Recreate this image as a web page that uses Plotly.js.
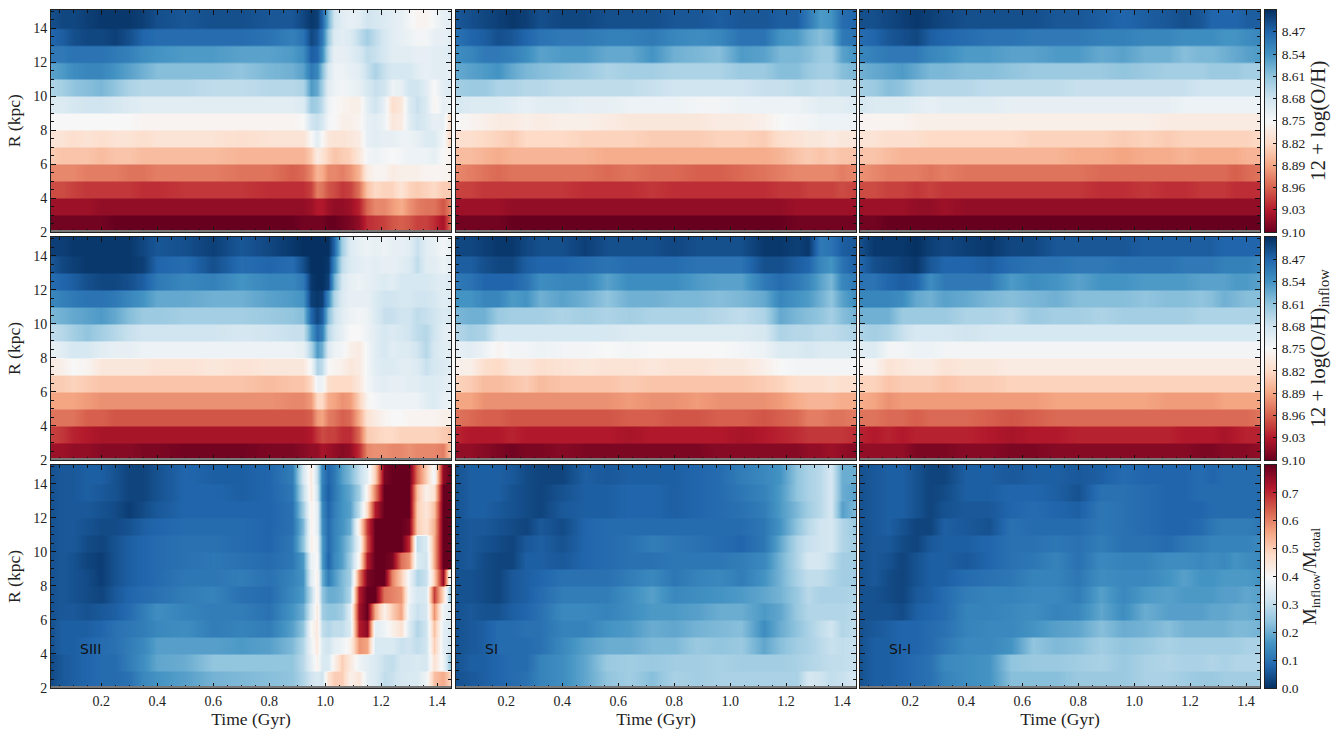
<!DOCTYPE html>
<html>
<head>
<meta charset="utf-8">
<script src="https://cdn.plot.ly/plotly-3.0.1.min.js"></script>
<style>html,body{margin:0;padding:0;background:#fff}</style>
</head>
<body>
<div id="myDiv" style="width:1338px;height:739px"></div>
<script>
// radial bins, listed from the top of each panel down (14-15 kpc ... 2-3 kpc)
const radiusBins = [14,13,12,11,10,9,8,7,6,5,4,3,2];

// time columns: the SIII panels need more of them around the 1 Gyr event
const timeSIII = [0.02,0.06,0.10,0.15,0.20,0.25,0.30,0.35,0.40, 0.50,0.60,0.70,0.80,0.88, 0.92,0.95,0.97,0.99,1.01,1.03, 1.06,1.09,1.12,1.15,1.18,1.21,1.24,1.27,1.30,1.33,1.36,1.39,1.42,1.45];
const timeSI = [0.02,0.07,0.12,0.17,0.22,0.27,0.32,0.40,0.48,0.56,0.64,0.72,0.80,0.88,0.96,1.04,1.12,1.18,1.24,1.28,1.32,1.36,1.40,1.45];

const gasSIII = [
[8.44,8.43,8.43,8.42,8.41,8.41,8.41,8.42,8.44, 8.45,8.44,8.44,8.45,8.45, 8.43,8.41,8.42,8.47,8.58,8.68, 8.71,8.72,8.71,8.68,8.69,8.70,8.71,8.72,8.74,8.76,8.76,8.74,8.72,8.71],
[8.47,8.46,8.44,8.43,8.43,8.42,8.44,8.47,8.48, 8.48,8.48,8.48,8.49,8.51, 8.49,8.43,8.45,8.50,8.62,8.70, 8.71,8.70,8.66,8.63,8.66,8.69,8.71,8.72,8.73,8.74,8.74,8.72,8.72,8.71],
[8.50,8.50,8.49,8.49,8.49,8.50,8.51,8.53,8.54, 8.55,8.55,8.56,8.56,8.55, 8.53,8.46,8.47,8.53,8.65,8.72, 8.72,8.71,8.69,8.66,8.67,8.69,8.71,8.71,8.71,8.72,8.72,8.71,8.71,8.70],
[8.56,8.55,8.53,8.52,8.52,8.54,8.56,8.58,8.60, 8.60,8.60,8.61,8.59,8.58, 8.56,8.50,8.52,8.60,8.69,8.73, 8.73,8.72,8.71,8.67,8.64,8.67,8.69,8.69,8.69,8.71,8.72,8.71,8.71,8.72],
[8.64,8.63,8.61,8.60,8.59,8.61,8.64,8.65,8.65, 8.65,8.66,8.66,8.65,8.65, 8.64,8.55,8.57,8.63,8.71,8.73, 8.74,8.73,8.72,8.69,8.67,8.68,8.73,8.72,8.68,8.68,8.71,8.75,8.71,8.70],
[8.70,8.70,8.69,8.68,8.68,8.69,8.70,8.71,8.71, 8.71,8.71,8.71,8.71,8.71, 8.70,8.62,8.63,8.66,8.73,8.75, 8.76,8.77,8.77,8.71,8.68,8.72,8.81,8.79,8.70,8.67,8.70,8.76,8.72,8.73],
[8.75,8.75,8.75,8.75,8.75,8.75,8.75,8.76,8.76, 8.76,8.76,8.76,8.76,8.76, 8.75,8.68,8.67,8.69,8.74,8.75, 8.77,8.77,8.76,8.72,8.71,8.73,8.79,8.78,8.71,8.68,8.70,8.72,8.72,8.82],
[8.80,8.80,8.81,8.80,8.81,8.80,8.80,8.81,8.80, 8.80,8.80,8.81,8.80,8.80, 8.80,8.75,8.71,8.75,8.79,8.80, 8.80,8.79,8.78,8.72,8.71,8.72,8.72,8.73,8.73,8.72,8.70,8.70,8.74,8.83],
[8.84,8.85,8.85,8.85,8.86,8.85,8.85,8.86,8.86, 8.86,8.86,8.87,8.87,8.87, 8.87,8.84,8.78,8.80,8.83,8.85, 8.84,8.83,8.79,8.74,8.73,8.74,8.75,8.74,8.73,8.73,8.73,8.72,8.75,8.77],
[8.92,8.92,8.92,8.93,8.93,8.93,8.94,8.94,8.93, 8.93,8.93,8.94,8.94,8.96, 8.95,8.92,8.87,8.88,8.92,8.92, 8.93,8.91,8.87,8.78,8.76,8.76,8.78,8.77,8.77,8.77,8.76,8.76,8.76,8.77],
[8.98,8.98,8.99,9.00,9.00,9.00,9.00,9.01,9.01, 9.00,9.00,9.00,9.01,9.01, 9.01,8.99,8.93,8.94,8.97,8.98, 9.00,8.99,8.94,8.85,8.82,8.83,8.83,8.80,8.83,8.84,8.83,8.82,8.84,8.84],
[9.05,9.05,9.05,9.05,9.06,9.06,9.06,9.06,9.06, 9.06,9.06,9.06,9.06,9.06, 9.06,9.05,9.03,9.03,9.05,9.06, 9.06,9.05,9.02,8.95,8.92,8.92,8.90,8.88,8.91,8.93,8.94,8.94,8.97,8.92],
[9.09,9.09,9.09,9.09,9.09,9.10,9.10,9.10,9.10, 9.10,9.10,9.10,9.10,9.10, 9.09,9.09,9.09,9.09,9.10,9.10, 9.09,9.08,9.06,9.01,9.00,8.99,8.97,8.96,8.97,8.99,8.99,9.01,9.04,8.94]
];

const gasSI = [
[8.45,8.44,8.43,8.42,8.41,8.42,8.44,8.43,8.43,8.44,8.44,8.44,8.45,8.45,8.46,8.45,8.45,8.46,8.46,8.50,8.55,8.54,8.48,8.47],
[8.49,8.47,8.46,8.44,8.45,8.47,8.49,8.50,8.50,8.51,8.51,8.50,8.52,8.53,8.52,8.49,8.49,8.54,8.55,8.58,8.60,8.58,8.50,8.49],
[8.53,8.52,8.50,8.50,8.51,8.53,8.56,8.55,8.55,8.57,8.57,8.54,8.58,8.59,8.60,8.55,8.56,8.59,8.59,8.60,8.62,8.62,8.56,8.54],
[8.57,8.56,8.55,8.54,8.57,8.59,8.60,8.61,8.62,8.64,8.63,8.63,8.64,8.64,8.64,8.62,8.62,8.60,8.60,8.62,8.63,8.63,8.60,8.59],
[8.63,8.62,8.62,8.64,8.64,8.65,8.65,8.66,8.66,8.66,8.66,8.67,8.68,8.68,8.68,8.68,8.67,8.67,8.66,8.66,8.67,8.67,8.66,8.66],
[8.69,8.70,8.70,8.70,8.71,8.72,8.71,8.71,8.72,8.72,8.73,8.73,8.73,8.74,8.74,8.73,8.73,8.73,8.73,8.72,8.71,8.71,8.71,8.70],
[8.75,8.76,8.77,8.78,8.78,8.77,8.78,8.77,8.77,8.78,8.79,8.79,8.79,8.79,8.78,8.78,8.77,8.75,8.74,8.74,8.73,8.73,8.73,8.73],
[8.81,8.81,8.82,8.83,8.84,8.82,8.82,8.82,8.83,8.83,8.83,8.84,8.84,8.84,8.83,8.83,8.84,8.81,8.80,8.79,8.79,8.78,8.79,8.79],
[8.86,8.86,8.87,8.88,8.87,8.87,8.87,8.87,8.87,8.88,8.88,8.88,8.88,8.88,8.88,8.88,8.88,8.87,8.85,8.84,8.85,8.84,8.85,8.85],
[8.92,8.93,8.94,8.95,8.94,8.94,8.94,8.94,8.94,8.95,8.94,8.95,8.95,8.96,8.96,8.95,8.94,8.93,8.92,8.92,8.92,8.92,8.93,8.92],
[8.99,8.99,9.00,9.00,9.00,9.00,9.00,9.00,9.01,9.01,9.01,9.00,9.01,9.01,9.01,9.01,9.01,9.00,9.00,8.99,8.99,8.99,8.98,8.99],
[9.05,9.05,9.05,9.05,9.06,9.06,9.06,9.06,9.06,9.06,9.06,9.06,9.06,9.06,9.06,9.06,9.06,9.06,9.05,9.05,9.05,9.05,9.05,9.05],
[9.09,9.09,9.09,9.09,9.10,9.10,9.10,9.10,9.10,9.10,9.10,9.10,9.10,9.10,9.10,9.10,9.10,9.10,9.09,9.09,9.09,9.09,9.09,9.09]
];

const gasSII = [
[8.44,8.44,8.43,8.42,8.41,8.42,8.43,8.44,8.44,8.44,8.44,8.45,8.45,8.46,8.47,8.46,8.45,8.44,8.45,8.47,8.47,8.47,8.46,8.46],
[8.48,8.47,8.45,8.44,8.43,8.46,8.47,8.48,8.49,8.49,8.50,8.50,8.50,8.51,8.51,8.52,8.52,8.53,8.53,8.53,8.54,8.54,8.53,8.52],
[8.52,8.51,8.50,8.50,8.50,8.52,8.53,8.55,8.55,8.56,8.56,8.55,8.55,8.57,8.56,8.58,8.58,8.60,8.59,8.59,8.58,8.57,8.56,8.55],
[8.58,8.57,8.56,8.55,8.57,8.59,8.59,8.60,8.60,8.61,8.62,8.62,8.62,8.62,8.61,8.62,8.63,8.63,8.63,8.62,8.62,8.62,8.63,8.63],
[8.63,8.62,8.60,8.61,8.64,8.65,8.65,8.65,8.66,8.66,8.66,8.66,8.67,8.67,8.67,8.67,8.67,8.67,8.68,8.68,8.68,8.68,8.68,8.68],
[8.69,8.70,8.70,8.70,8.71,8.72,8.71,8.71,8.71,8.72,8.72,8.72,8.72,8.72,8.72,8.72,8.72,8.73,8.73,8.73,8.73,8.73,8.73,8.73],
[8.76,8.76,8.76,8.76,8.77,8.77,8.77,8.77,8.77,8.77,8.77,8.77,8.77,8.77,8.77,8.77,8.78,8.78,8.78,8.78,8.78,8.78,8.78,8.78],
[8.80,8.80,8.81,8.81,8.81,8.82,8.82,8.82,8.82,8.82,8.83,8.83,8.83,8.83,8.84,8.83,8.84,8.83,8.83,8.83,8.83,8.83,8.83,8.82],
[8.85,8.85,8.86,8.87,8.87,8.87,8.87,8.87,8.87,8.87,8.87,8.87,8.88,8.88,8.89,8.88,8.88,8.87,8.88,8.88,8.88,8.88,8.87,8.87],
[8.91,8.92,8.93,8.93,8.93,8.94,8.93,8.94,8.94,8.94,8.94,8.94,8.94,8.95,8.95,8.95,8.95,8.95,8.95,8.95,8.95,8.96,8.95,8.94],
[8.98,8.98,8.99,8.99,9.00,8.99,9.00,9.00,9.00,9.00,9.00,9.00,9.00,9.01,9.01,9.00,9.01,9.01,9.00,9.00,9.00,9.01,9.01,9.01],
[9.05,9.05,9.05,9.05,9.06,9.06,9.05,9.06,9.06,9.06,9.06,9.06,9.06,9.06,9.06,9.06,9.06,9.06,9.06,9.06,9.06,9.06,9.06,9.06],
[9.09,9.09,9.10,9.10,9.10,9.10,9.10,9.10,9.10,9.10,9.10,9.10,9.10,9.10,9.10,9.10,9.10,9.10,9.10,9.10,9.10,9.10,9.10,9.10]
];

const inflowSIII = [
[8.42,8.42,8.41,8.41,8.41,8.41,8.41,8.43,8.45, 8.44,8.42,8.45,8.43,8.41, 8.40,8.40,8.40,8.40,8.40,8.47, 8.63,8.70,8.72,8.73,8.72,8.73,8.72,8.72,8.71,8.67,8.71,8.72,8.74,8.72],
[8.45,8.43,8.42,8.41,8.41,8.41,8.41,8.42,8.47, 8.48,8.44,8.48,8.47,8.48, 8.44,8.40,8.40,8.40,8.41,8.52, 8.66,8.70,8.71,8.72,8.71,8.72,8.72,8.71,8.70,8.66,8.71,8.71,8.73,8.71],
[8.48,8.47,8.46,8.44,8.43,8.43,8.44,8.46,8.50, 8.52,8.51,8.54,8.52,8.52, 8.50,8.41,8.40,8.40,8.42,8.58, 8.69,8.72,8.73,8.72,8.71,8.70,8.71,8.69,8.69,8.69,8.69,8.70,8.71,8.70],
[8.52,8.51,8.50,8.49,8.49,8.50,8.52,8.54,8.57, 8.57,8.58,8.58,8.56,8.55, 8.54,8.42,8.41,8.42,8.52,8.64, 8.70,8.72,8.72,8.72,8.70,8.68,8.68,8.69,8.69,8.68,8.68,8.69,8.71,8.70],
[8.59,8.58,8.57,8.56,8.55,8.57,8.60,8.62,8.62, 8.63,8.63,8.63,8.62,8.61, 8.60,8.47,8.43,8.46,8.60,8.67, 8.71,8.73,8.74,8.73,8.70,8.67,8.67,8.68,8.68,8.66,8.67,8.68,8.70,8.69],
[8.66,8.65,8.63,8.61,8.63,8.65,8.67,8.68,8.68, 8.68,8.68,8.69,8.68,8.67, 8.67,8.55,8.48,8.51,8.65,8.69, 8.72,8.75,8.75,8.73,8.71,8.69,8.70,8.69,8.68,8.66,8.65,8.68,8.71,8.72],
[8.72,8.71,8.69,8.69,8.71,8.72,8.72,8.73,8.73, 8.73,8.73,8.73,8.73,8.73, 8.72,8.64,8.55,8.58,8.70,8.73, 8.74,8.77,8.78,8.74,8.71,8.69,8.71,8.70,8.70,8.68,8.65,8.69,8.71,8.71],
[8.78,8.77,8.75,8.76,8.79,8.79,8.79,8.79,8.80, 8.80,8.79,8.80,8.79,8.79, 8.79,8.74,8.64,8.66,8.75,8.76, 8.77,8.79,8.78,8.74,8.71,8.70,8.70,8.71,8.71,8.70,8.67,8.69,8.70,8.71],
[8.84,8.84,8.83,8.84,8.85,8.85,8.85,8.85,8.85, 8.85,8.85,8.85,8.86,8.85, 8.85,8.82,8.73,8.73,8.81,8.82, 8.82,8.82,8.79,8.74,8.72,8.71,8.72,8.72,8.71,8.71,8.70,8.70,8.71,8.72],
[8.89,8.89,8.89,8.90,8.91,8.91,8.91,8.91,8.91, 8.91,8.91,8.91,8.91,8.92, 8.92,8.90,8.82,8.82,8.88,8.89, 8.91,8.90,8.83,8.76,8.74,8.73,8.73,8.73,8.73,8.73,8.71,8.70,8.72,8.73],
[8.94,8.94,8.94,8.96,8.96,8.97,8.97,8.97,8.97, 8.97,8.97,8.97,8.97,8.97, 8.97,8.96,8.90,8.89,8.93,8.94, 8.96,8.95,8.88,8.80,8.78,8.76,8.75,8.75,8.76,8.76,8.76,8.76,8.77,8.77],
[8.99,9.00,9.02,9.03,9.04,9.04,9.04,9.04,9.04, 9.04,9.04,9.04,9.04,9.04, 9.04,9.03,9.00,8.98,8.99,8.99, 9.01,9.01,8.95,8.84,8.83,8.82,8.82,8.83,8.83,8.83,8.83,8.83,8.84,8.85],
[9.05,9.05,9.06,9.06,9.07,9.07,9.07,9.08,9.08, 9.09,9.09,9.09,9.08,9.08, 9.07,9.06,9.06,9.04,9.05,9.06, 9.07,9.06,9.01,8.92,8.91,8.91,8.92,8.92,8.91,8.92,8.92,8.92,8.93,8.85]
];

const inflowSI = [
[8.43,8.43,8.42,8.41,8.41,8.43,8.44,8.44,8.42,8.44,8.44,8.44,8.43,8.44,8.44,8.44,8.41,8.41,8.42,8.41,8.50,8.49,8.46,8.45],
[8.46,8.46,8.44,8.43,8.43,8.46,8.47,8.47,8.48,8.49,8.48,8.48,8.48,8.49,8.49,8.49,8.44,8.44,8.46,8.47,8.52,8.54,8.49,8.46],
[8.50,8.49,8.47,8.47,8.47,8.49,8.53,8.52,8.52,8.56,8.53,8.53,8.53,8.55,8.56,8.56,8.50,8.48,8.50,8.52,8.56,8.59,8.52,8.50],
[8.54,8.54,8.52,8.52,8.55,8.54,8.58,8.56,8.58,8.61,8.58,8.58,8.59,8.59,8.60,8.59,8.57,8.52,8.54,8.55,8.58,8.61,8.56,8.53],
[8.59,8.58,8.58,8.62,8.63,8.63,8.63,8.64,8.63,8.64,8.63,8.64,8.64,8.64,8.65,8.66,8.64,8.57,8.59,8.60,8.61,8.63,8.60,8.58],
[8.65,8.63,8.64,8.69,8.69,8.69,8.69,8.69,8.69,8.69,8.70,8.70,8.70,8.70,8.70,8.70,8.69,8.64,8.65,8.65,8.66,8.66,8.65,8.64],
[8.72,8.71,8.73,8.76,8.74,8.74,8.73,8.74,8.74,8.75,8.74,8.75,8.75,8.75,8.75,8.74,8.73,8.70,8.70,8.69,8.70,8.70,8.70,8.70],
[8.77,8.77,8.81,8.82,8.79,8.79,8.81,8.80,8.79,8.80,8.80,8.79,8.80,8.80,8.79,8.79,8.77,8.75,8.74,8.74,8.74,8.74,8.74,8.74],
[8.83,8.84,8.86,8.86,8.85,8.84,8.86,8.85,8.85,8.85,8.84,8.85,8.85,8.85,8.85,8.85,8.84,8.83,8.81,8.81,8.81,8.80,8.81,8.81],
[8.89,8.89,8.91,8.91,8.91,8.91,8.91,8.91,8.91,8.91,8.90,8.91,8.91,8.90,8.91,8.91,8.91,8.90,8.88,8.87,8.87,8.87,8.88,8.88],
[8.94,8.95,8.96,8.96,8.97,8.97,8.97,8.97,8.97,8.97,8.96,8.96,8.97,8.97,8.96,8.96,8.97,8.96,8.95,8.93,8.93,8.94,8.94,8.93],
[9.02,9.03,9.03,9.03,9.02,9.03,9.03,9.03,9.03,9.03,9.04,9.03,9.03,9.03,9.03,9.04,9.03,9.02,9.01,9.00,9.00,9.00,9.00,9.01],
[9.06,9.06,9.07,9.08,9.09,9.08,9.08,9.07,9.08,9.08,9.08,9.08,9.08,9.08,9.07,9.07,9.07,9.07,9.07,9.06,9.06,9.05,9.06,9.07]
];

const inflowSII = [
[8.44,8.41,8.41,8.41,8.40,8.42,8.43,8.42,8.41,8.43,8.43,8.45,8.45,8.45,8.45,8.46,8.46,8.46,8.46,8.46,8.47,8.47,8.47,8.47],
[8.47,8.44,8.43,8.42,8.41,8.45,8.47,8.47,8.46,8.48,8.49,8.49,8.50,8.50,8.49,8.49,8.49,8.50,8.50,8.50,8.51,8.51,8.51,8.52],
[8.49,8.49,8.47,8.46,8.47,8.53,8.50,8.50,8.50,8.55,8.53,8.54,8.56,8.54,8.54,8.55,8.55,8.55,8.56,8.56,8.56,8.55,8.55,8.56],
[8.52,8.52,8.52,8.53,8.57,8.58,8.56,8.57,8.59,8.60,8.59,8.58,8.60,8.60,8.60,8.61,8.60,8.60,8.61,8.60,8.58,8.59,8.60,8.60],
[8.58,8.58,8.58,8.62,8.62,8.62,8.62,8.64,8.64,8.65,8.62,8.63,8.63,8.64,8.63,8.63,8.63,8.63,8.64,8.64,8.64,8.64,8.64,8.64],
[8.64,8.63,8.64,8.67,8.69,8.69,8.69,8.68,8.69,8.69,8.69,8.69,8.69,8.69,8.69,8.69,8.69,8.69,8.69,8.69,8.69,8.69,8.69,8.69],
[8.71,8.70,8.74,8.74,8.73,8.73,8.74,8.74,8.74,8.74,8.74,8.74,8.74,8.74,8.74,8.74,8.74,8.74,8.74,8.74,8.74,8.74,8.74,8.74],
[8.76,8.76,8.80,8.79,8.78,8.78,8.80,8.79,8.79,8.78,8.78,8.78,8.78,8.78,8.78,8.78,8.78,8.78,8.78,8.78,8.78,8.78,8.78,8.78],
[8.83,8.83,8.85,8.84,8.84,8.84,8.85,8.84,8.84,8.83,8.83,8.83,8.83,8.83,8.83,8.83,8.83,8.83,8.83,8.83,8.83,8.83,8.83,8.83],
[8.88,8.89,8.91,8.90,8.90,8.90,8.90,8.90,8.90,8.90,8.90,8.89,8.89,8.89,8.89,8.89,8.90,8.90,8.90,8.90,8.89,8.89,8.89,8.89],
[8.94,8.94,8.95,8.95,8.96,8.95,8.95,8.95,8.96,8.97,8.96,8.95,8.95,8.95,8.95,8.95,8.95,8.95,8.95,8.95,8.95,8.95,8.95,8.94],
[9.02,9.03,9.02,9.03,9.02,9.02,9.02,9.02,9.03,9.04,9.03,9.03,9.02,9.02,9.02,9.02,9.02,9.03,9.03,9.03,9.04,9.03,9.02,9.02],
[9.06,9.06,9.06,9.06,9.08,9.08,9.08,9.07,9.07,9.08,9.08,9.07,9.07,9.07,9.07,9.07,9.07,9.07,9.08,9.08,9.07,9.07,9.07,9.06]
];

const ratioSIII = [
[.05,.06,.06,.07,.07,.05,.03,.03,.05, .08,.07,.07,.08,.12, .33,.44,.30,.13,.08,.11, .18,.22,.30,.36,.50,.78,.80,.80,.80,.62,.50,.38,.76,.80],
[.05,.06,.06,.07,.06,.05,.03,.03,.05, .08,.08,.07,.08,.11, .30,.44,.32,.12,.07,.11, .16,.19,.26,.42,.60,.80,.80,.80,.80,.52,.42,.46,.80,.80],
[.05,.06,.06,.06,.05,.04,.02,.04,.06, .08,.08,.08,.08,.10, .26,.42,.36,.14,.08,.12, .16,.18,.30,.48,.72,.80,.80,.80,.80,.50,.45,.52,.80,.80],
[.05,.06,.06,.05,.04,.04,.05,.07,.08, .09,.09,.09,.08,.10, .22,.42,.36,.15,.09,.13, .16,.20,.44,.68,.80,.80,.80,.80,.78,.50,.46,.54,.80,.80],
[.05,.06,.06,.04,.03,.05,.07,.08,.09, .10,.10,.09,.08,.11, .24,.42,.38,.17,.09,.13, .18,.24,.38,.66,.80,.80,.80,.80,.70,.30,.34,.55,.80,.80],
[.05,.06,.05,.03,.02,.05,.07,.08,.09, .10,.11,.10,.09,.11, .17,.38,.40,.17,.08,.14, .18,.26,.42,.72,.80,.80,.78,.62,.58,.34,.32,.55,.80,.80],
[.05,.06,.05,.04,.02,.05,.07,.08,.09, .11,.11,.12,.10,.13, .16,.36,.42,.20,.12,.17, .22,.26,.60,.78,.80,.80,.60,.50,.38,.28,.31,.50,.76,.30],
[.05,.06,.05,.04,.03,.06,.08,.09,.10, .12,.13,.10,.09,.14, .17,.30,.42,.24,.20,.20, .22,.28,.72,.80,.80,.62,.60,.58,.38,.33,.34,.68,.48,.22],
[.05,.06,.06,.05,.06,.07,.09,.12,.15, .13,.12,.12,.10,.16, .20,.34,.44,.26,.24,.24, .26,.35,.74,.80,.55,.42,.50,.56,.36,.31,.33,.58,.38,.34],
[.05,.07,.07,.07,.08,.10,.11,.12,.14, .15,.12,.13,.12,.18, .24,.40,.44,.30,.28,.30, .30,.34,.72,.76,.36,.38,.42,.46,.34,.28,.32,.52,.36,.33],
[.05,.07,.07,.08,.09,.10,.12,.14,.18, .18,.18,.17,.18,.22, .28,.38,.44,.34,.32,.36, .38,.42,.58,.56,.34,.34,.34,.31,.32,.30,.32,.50,.36,.32],
[.04,.06,.07,.08,.09,.09,.12,.15,.19, .20,.24,.24,.24,.24, .29,.36,.42,.34,.34,.42, .50,.44,.38,.36,.34,.31,.30,.33,.33,.34,.33,.46,.38,.24],
[.04,.06,.07,.08,.09,.09,.10,.14,.16, .18,.21,.22,.23,.24, .28,.32,.34,.32,.46,.50, .50,.42,.45,.36,.34,.30,.31,.33,.34,.34,.38,.52,.55,.48]
];

const ratioSI = [
[.05,.07,.07,.07,.06,.04,.03,.03,.07,.06,.07,.07,.07,.08,.09,.12,.14,.16,.24,.27,.29,.33,.20,.20],
[.05,.07,.07,.07,.05,.04,.03,.05,.07,.07,.08,.08,.07,.08,.09,.11,.13,.17,.24,.27,.29,.33,.20,.18],
[.05,.07,.07,.06,.05,.04,.03,.06,.07,.07,.08,.08,.07,.08,.09,.10,.12,.17,.22,.26,.29,.33,.18,.22],
[.05,.06,.06,.05,.04,.03,.06,.04,.08,.09,.09,.09,.09,.09,.09,.09,.11,.16,.24,.29,.32,.33,.28,.25],
[.05,.06,.05,.04,.03,.06,.07,.05,.08,.09,.10,.12,.11,.10,.09,.08,.11,.19,.28,.31,.32,.33,.28,.26],
[.05,.06,.04,.03,.03,.07,.07,.06,.08,.09,.10,.10,.11,.11,.11,.12,.14,.21,.28,.33,.33,.30,.26,.26],
[.05,.05,.04,.03,.06,.07,.08,.10,.10,.10,.12,.14,.11,.13,.14,.12,.16,.21,.27,.30,.30,.28,.26,.26],
[.05,.05,.04,.03,.06,.07,.09,.12,.12,.12,.15,.18,.14,.15,.16,.17,.19,.21,.25,.29,.27,.27,.27,.28],
[.05,.06,.05,.05,.07,.08,.10,.14,.14,.13,.15,.17,.17,.18,.20,.20,.17,.19,.25,.28,.28,.28,.28,.29],
[.05,.06,.07,.09,.09,.10,.10,.13,.13,.16,.17,.20,.19,.21,.22,.23,.15,.20,.24,.27,.30,.32,.28,.30],
[.05,.06,.07,.09,.09,.09,.10,.14,.18,.20,.20,.22,.22,.25,.24,.25,.19,.23,.26,.27,.29,.31,.30,.31],
[.05,.07,.07,.08,.09,.09,.13,.15,.19,.25,.26,.25,.26,.26,.27,.26,.26,.26,.27,.28,.29,.30,.30,.31],
[.05,.06,.07,.08,.09,.10,.13,.15,.19,.24,.26,.23,.27,.26,.27,.27,.27,.27,.27,.33,.32,.30,.31,.33]
];

const ratioSII = [
[.05,.06,.07,.07,.05,.03,.03,.07,.07,.06,.07,.07,.06,.07,.09,.08,.08,.08,.09,.08,.09,.09,.09,.09],
[.05,.06,.07,.07,.05,.03,.04,.07,.07,.08,.08,.07,.05,.10,.10,.09,.08,.08,.09,.09,.09,.09,.09,.09],
[.05,.06,.07,.07,.05,.03,.05,.06,.06,.08,.09,.08,.07,.11,.10,.09,.08,.08,.08,.09,.09,.09,.09,.09],
[.05,.06,.07,.05,.03,.03,.07,.06,.05,.10,.09,.09,.09,.11,.10,.09,.08,.08,.09,.11,.12,.12,.12,.11],
[.05,.06,.06,.04,.03,.06,.07,.07,.08,.10,.10,.11,.10,.12,.10,.10,.09,.11,.12,.13,.13,.13,.13,.14],
[.05,.06,.05,.03,.05,.07,.07,.06,.08,.10,.11,.13,.10,.14,.13,.13,.15,.15,.14,.15,.14,.16,.15,.14],
[.05,.06,.04,.03,.05,.07,.07,.09,.10,.11,.13,.13,.11,.15,.14,.14,.16,.18,.16,.16,.17,.17,.17,.16],
[.05,.05,.04,.03,.06,.07,.09,.12,.13,.13,.14,.14,.12,.18,.14,.17,.18,.17,.17,.17,.18,.18,.19,.18],
[.05,.05,.05,.04,.07,.08,.09,.13,.13,.14,.15,.13,.14,.19,.15,.20,.18,.18,.18,.19,.19,.20,.20,.19],
[.05,.06,.07,.08,.08,.09,.10,.13,.14,.14,.16,.18,.19,.23,.20,.21,.23,.21,.21,.21,.21,.22,.22,.21],
[.05,.07,.07,.08,.08,.09,.11,.14,.14,.16,.24,.22,.23,.26,.24,.25,.27,.26,.26,.26,.26,.26,.27,.27],
[.05,.07,.07,.08,.09,.10,.14,.15,.16,.24,.25,.25,.26,.27,.25,.27,.28,.27,.27,.28,.27,.28,.28,.28],
[.05,.07,.07,.08,.09,.10,.13,.15,.16,.23,.23,.23,.25,.25,.25,.27,.27,.26,.25,.25,.26,.26,.26,.26]
];

const oxygenTicks = [8.47,8.54,8.61,8.68,8.75,8.82,8.89,8.96,9.03,9.10];
const ratioTicks = [0.0,0.1,0.2,0.3,0.4,0.5,0.6,0.7];
const modelLabels = ['SIII','SI','SI-I'];

const rdbu = [
  [0,'#053061'],[0.1,'#2166ac'],[0.2,'#4393c3'],[0.3,'#92c5de'],[0.4,'#d1e5f0'],
  [0.5,'#f7f7f7'],[0.6,'#fddbc7'],[0.7,'#f4a582'],[0.8,'#d6604d'],[0.9,'#b2182b'],[1,'#67001f']
];

const W = 1338, H = 739;
const SERIF = '"Liberation Serif", serif';
const colPx = [[51,451],[456,856],[860,1260]];
const stripPx = [1265,1276];
const rowPx = [[9.5,232],[237,460],[465,688]];

function domX(p) { return [p[0]/W, p[1]/W]; }
function domY(p) { return [1 - p[1]/H, 1 - p[0]/H]; }

// each bin is flat in R, so every row goes in twice and only the bin edges get blended
function binEdges() {
  let edges = [];
  for (let i = 0; i < radiusBins.length; i++) {
    let lo = radiusBins[i];
    edges.push(lo === 14 ? 15.1 : lo + 0.95);
    edges.push(lo === 2 ? 2 : lo + 0.05);
  }
  return edges;
}

function doubleRows(rows) {
  let out = [];
  rows.forEach(r => { out.push(r); out.push(r); });
  return out;
}

const data = [];
const layout = {
  width: W, height: H,
  margin: {l:0, r:0, t:0, b:0},
  paper_bgcolor: '#fff',
  plot_bgcolor: '#fff',
  showlegend: false,
  font: {family: SERIF, size: 14, color: '#222'},
  annotations: [],
  shapes: []
};

function addPanel(n, time, rows, lo, hi, row, col) {
  data.push({
    type: 'heatmap', x: time, y: binEdges(), z: doubleRows(rows),
    zmin: lo, zmax: hi, colorscale: rdbu, zsmooth: 'best', showscale: false,
    xaxis: 'x' + n, yaxis: 'y' + n, hoverinfo: 'skip'
  });
  layout['xaxis' + n] = {
    domain: domX(colPx[col]), anchor: 'y' + n, range: [0.02,1.45],
    tick0: 0, dtick: 0.2, tickformat: '.1f', ticks: 'inside', ticklen: 5, tickwidth: 1, tickcolor: '#111',
    minor: {dtick: 0.05, tick0: 0, ticks: 'inside', ticklen: 3, tickwidth: 1, tickcolor: '#111'},
    showline: true, mirror: 'ticks', linecolor: '#222', linewidth: 1,
    showgrid: false, zeroline: false, showticklabels: row === 2,
    tickfont: {family: SERIF, size: 14, color: '#222'},
    title: row === 2 ? {text: 'Time (Gyr)', font: {family: SERIF, size: 17.5, color: '#222'}, standoff: 4} : undefined
  };
  layout['yaxis' + n] = {
    domain: domY(rowPx[row]), anchor: 'x' + n, range: [2,15.1],
    tick0: 2, dtick: 2, ticks: 'inside', ticklen: 5, tickwidth: 1, tickcolor: '#111',
    minor: {dtick: 0.5, tick0: 2, ticks: 'inside', ticklen: 3, tickwidth: 1, tickcolor: '#111'},
    showline: true, mirror: 'ticks', linecolor: '#222', linewidth: 1,
    showgrid: false, zeroline: false, showticklabels: col === 0,
    tickfont: {family: SERIF, size: 14, color: '#222'},
    title: col === 0 ? {text: 'R (kpc)', font: {family: SERIF, size: 17.5, color: '#222'}, standoff: 8} : undefined
  };
  // the grey strip along the bottom spine
  layout.shapes.push({
    type: 'rect', xref: 'x' + n + ' domain', yref: 'y' + n + ' domain',
    x0: 0, x1: 1, y0: 0, y1: 0.009, line: {width: 0}, fillcolor: '#777', layer: 'above'
  });
}

function addStrip(n, lo, hi, ticks, fmt, reversed, title, row, standoff, tsize) {
  data.push({
    type: 'heatmap', x: [0,1], y: [lo,hi], z: [[lo,lo],[hi,hi]],
    zmin: lo, zmax: hi, colorscale: rdbu, zsmooth: 'best', showscale: false,
    xaxis: 'x' + n, yaxis: 'y' + n, hoverinfo: 'skip'
  });
  layout['xaxis' + n] = {
    domain: domX(stripPx), anchor: 'y' + n, range: [0,1], showticklabels: false, ticks: '',
    showgrid: false, zeroline: false, showline: true, mirror: true, linecolor: '#222', linewidth: 1
  };
  layout['yaxis' + n] = {
    domain: domY(rowPx[row]), anchor: 'x' + n, side: 'right',
    range: reversed ? [hi,lo] : [lo,hi],
    tickmode: 'array', tickvals: ticks, ticktext: ticks.map(v => v.toFixed(fmt)),
    ticks: 'inside', ticklen: 3, tickwidth: 1, tickcolor: '#111', ticklabelstandoff: 2,
    showgrid: false, zeroline: false, showline: true, mirror: true, linecolor: '#222', linewidth: 1,
    tickfont: {family: SERIF, size: 13.5, color: '#222'},
    title: {text: title, font: {family: SERIF, size: tsize, color: '#222'}, standoff: standoff}
  };
}

const panels = [
  [timeSIII,gasSIII],[timeSI,gasSI],[timeSI,gasSII],
  [timeSIII,inflowSIII],[timeSI,inflowSI],[timeSI,inflowSII],
  [timeSIII,ratioSIII],[timeSI,ratioSI],[timeSI,ratioSII]
];

for (let row = 0; row < 3; row++) {
  for (let col = 0; col < 3; col++) {
    let n = row*3 + col + 1;
    let p = panels[n-1];
    if (row < 2) addPanel(n, p[0], p[1], 8.40, 9.10, row, col);
    else addPanel(n, p[0], p[1], 0, 0.8, row, col);
    if (row === 2) {
      layout.annotations.push({
        xref: 'x' + n, yref: 'y' + n, x: 0.115, y: 4.3, xanchor: 'left', yanchor: 'middle',
        text: modelLabels[col], showarrow: false,
        font: {family: '"DejaVu Sans", sans-serif', size: 14, color: '#111'}
      });
    }
  }
}

addStrip(10, 8.40, 9.10, oxygenTicks, 2, true, '12 + log(O/H)', 0, 0, 21);
addStrip(11, 8.40, 9.10, oxygenTicks, 2, true, '12 + log(O/H)<sub>inflow</sub>', 1, 0, 21);
addStrip(12, 0, 0.8, ratioTicks, 1, false, 'M<sub>inflow</sub>/M<sub>total</sub>', 2, 0, 19);

Plotly.newPlot('myDiv', data, layout, {displayModeBar: false, staticPlot: true});
</script>
</body>
</html>
